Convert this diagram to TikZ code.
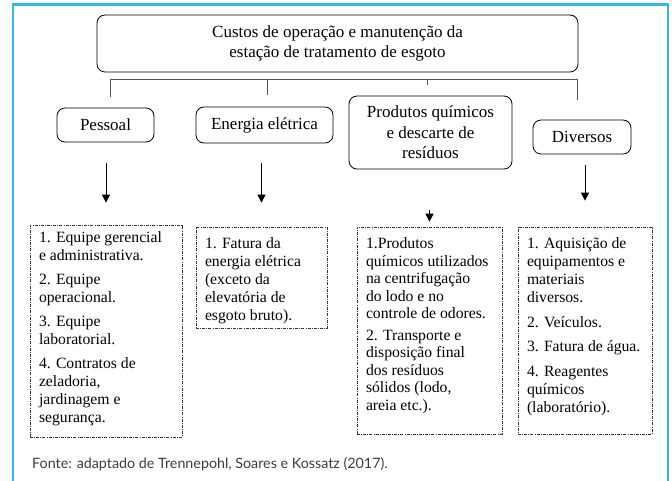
\documentclass[tikz,border=0pt]{standalone}
\usepackage{fontspec}
\setmainfont{Liberation Serif}
\newfontfamily\capfont{Lato}
\usetikzlibrary{arrows.meta}
\definecolor{framecol}{HTML}{3AB4E2}
\definecolor{buscol}{HTML}{555555}
\definecolor{capcol}{HTML}{3C3C3C}
\newcommand{\listtext}[4]{\parbox[c][#2][t]{#1}{\raggedright\vspace*{#3}#4}}
\tikzset{
  headbox/.style={draw, rounded corners=8pt, line width=0.8pt, align=center,
    font=\fontsize{17}{20.5}\selectfont, inner sep=0pt},
  listbox/.style={draw=black!80, line width=0.7pt,
    dash pattern=on 3pt off 1.2pt on 0.8pt off 1.2pt,
    inner xsep=9pt, inner ysep=0pt, font=\fontsize{15.7}{18}\selectfont},
  bus/.style={draw=buscol, line width=0.8pt},
  arr/.style={-{Triangle[width=8pt,length=8pt]}, line width=0.8pt}
}
\begin{document}
\begin{tikzpicture}[x=1pt,y=-1pt]
\useasboundingbox (0,0) rectangle (672,481);
\draw[framecol, line width=2.5pt] (13,481) -- (13,4.5) -- (668,4.5) -- (668,481);
\node[headbox, minimum width=481pt, minimum height=57pt] (top) at (337.5,43.5)
  {Custos de operação e manutenção da\\estação de tratamento de esgoto};
\node[headbox, minimum width=97pt, minimum height=34pt] (pessoal) at (105.5,125) {Pessoal};
\node[headbox, minimum width=137pt, minimum height=36pt] (energia) at (264.5,125) {Energia elétrica};
\node[headbox, minimum width=163pt, minimum height=73pt] (quimicos) at (430.5,132.5)
  {Produtos químicos\\e descarte de\\resíduos};
\node[headbox, minimum width=98pt, minimum height=34pt] (diversos) at (582,137) {Diversos};
\foreach \n/\x/\y in {1/110/97,2/267/95,3/427/85,4/577/100}{
  \coordinate (up\n) at (\x,79);
  \coordinate (dn\n) at (\x,\y);
  \draw[bus] (up\n) -- (dn\n);
}
\draw[bus] (up1) -- (up4);
\node[listbox] (plist) at (106,331) {\listtext{134pt}{212pt}{7pt}{1. Equipe gerencial\\
  e administrativa.\\[6pt] 2. Equipe\\ operacional.\\[6pt] 3. Equipe\\ laboratorial.\\[6pt]
  4. Contratos de\\ zeladoria,\\ jardinagem e\\ segurança.}};
\node[listbox] (elist) at (261.5,277.5) {\listtext{113pt}{101pt}{11pt}{1. Fatura da\\
  energia elétrica\\ (exceto da\\ elevatória de\\ esgoto bruto).}};
\node[listbox] (qlist) at (429.5,330.5) {\listtext{127pt}{207pt}{11pt}{\baselineskip=17.5pt 1.Produtos\\
  químicos utilizados\\ na centrifugação\\ do lodo e no\\ controle de odores.\\[4pt]
  2. Transporte e\\ disposição final\\ dos resíduos\\ sólidos (lodo,\\ areia etc.).}};
\node[listbox] (dlist) at (585,330.5) {\listtext{116pt}{207pt}{11pt}{1. Aquisição de\\
  equipamentos e\\ materiais\\ diversos.\\[6.5pt] 2. Veículos.\\[6.5pt] 3. Fatura de água.\\[6.5pt]
  4. Reagentes\\ químicos\\ (laboratório).}};
\foreach \a/\b/\s/\e in {pessoal/plist/21/22,energia/elist/20/24,quimicos/qlist/41/5,diversos/dlist/11/26}
  \draw[arr, shorten <=\s pt, shorten >=\e pt] (\a.south -| \b.north) -- (\b.north);
\node[anchor=base west, font=\capfont\fontsize{14.3}{17}\selectfont, text=capcol, inner sep=0pt]
  (fonte) at (32,468) {Fonte: adaptado de Trennepohl, Soares e Kossatz (2017).};
\end{tikzpicture}
\end{document}
